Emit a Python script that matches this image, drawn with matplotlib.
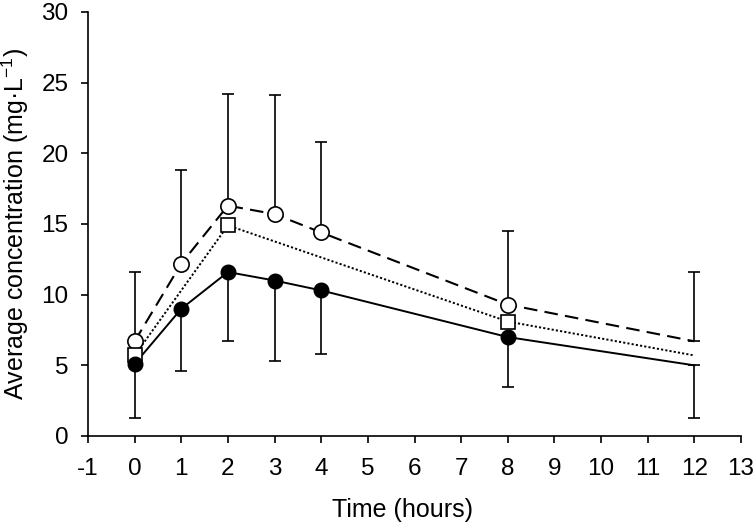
import matplotlib
matplotlib.use("Agg")
import matplotlib.pyplot as plt

plt.rcParams['font.family'] = ['Liberation Sans', 'DejaVu Sans']
plt.rcParams['mathtext.fontset'] = 'custom'
plt.rcParams['mathtext.rm'] = 'Liberation Sans'
plt.rcParams['axes.unicode_minus'] = False

time_h = [0, 1, 2, 3, 4, 8, 12]

# filled circles, solid line, error bars downward
low_mean = [5.1, 9.0, 11.6, 11.0, 10.3, 7.0, 5.0]
low_err = [3.8, 4.4, 4.9, 5.7, 4.5, 3.5, 3.7]

# open circles, dashed line, error bars upward
high_mean = [6.7, 12.2, 16.3, 15.7, 14.4, 9.3, 6.7]
high_err = [4.9, 6.6, 7.9, 8.4, 6.4, 5.2, 4.9]

# open squares, dotted line
sq_time = [0, 2, 8, 12]
sq_mean = [5.7, 14.9, 8.1, 5.7]


def main():
    fig = plt.figure(figsize=(7.55, 5.23), dpi=100)
    ax = fig.add_axes([88 / 755, 1 - 436 / 523, (741 - 88) / 755, (436 - 12) / 523])

    # error bars
    ax.errorbar(time_h, low_mean, yerr=[low_err, [0] * len(low_err)], fmt='none',
                ecolor='black', elinewidth=1.2, capsize=4, capthick=1.2, zorder=1)
    ax.errorbar(time_h, high_mean, yerr=[[0] * len(high_err), high_err], fmt='none',
                ecolor='black', elinewidth=1.2, capsize=4, capthick=1.2, zorder=1)

    # lines
    ax.plot(time_h, low_mean, color='black', lw=1.4, ls='-', zorder=2)
    ax.plot(time_h, high_mean, color='black', lw=1.5, ls=(0, (6.5, 3.5)), zorder=2)
    ax.plot(sq_time, sq_mean, color='black', lw=1.4, ls=(0, (1.1, 1.1)), zorder=2)

    # markers (none at 12 h)
    ax.plot(time_h[:-1], high_mean[:-1], 'o', ms=11, mfc='white', mec='black', mew=1.2, zorder=3)
    ax.plot(sq_time[:-1], sq_mean[:-1], 's', ms=10.5, mfc='white', mec='black', mew=1.2, zorder=3)
    ax.plot(time_h[:-1], low_mean[:-1], 'o', ms=10.5, mfc='black', mec='black', zorder=4)

    ax.set_xlim(-1, 13)
    ax.set_ylim(0, 30)
    ax.set_xticks(range(-1, 14))
    ax.set_yticks(range(0, 31, 5))
    ax.spines['top'].set_visible(False)
    ax.spines['right'].set_visible(False)
    ax.spines['left'].set_linewidth(1.2)
    ax.spines['bottom'].set_linewidth(1.2)
    ax.tick_params(direction='out', length=5, width=1.2, labelsize=17.5)
    ax.tick_params(axis='x', pad=10.5)
    ax.tick_params(axis='y', pad=9)

    ax.set_xlabel('Time (hours)', fontsize=18)
    ax.set_ylabel(r'Average concentration (mg·L$^{\mathregular{-1}}$)', fontsize=18)
    ax.xaxis.set_label_coords(0.482, -0.146)
    ax.yaxis.set_label_coords(-0.087, 0.5)

    fig.savefig('out.png', dpi=100)


if __name__ == '__main__':
    main()
